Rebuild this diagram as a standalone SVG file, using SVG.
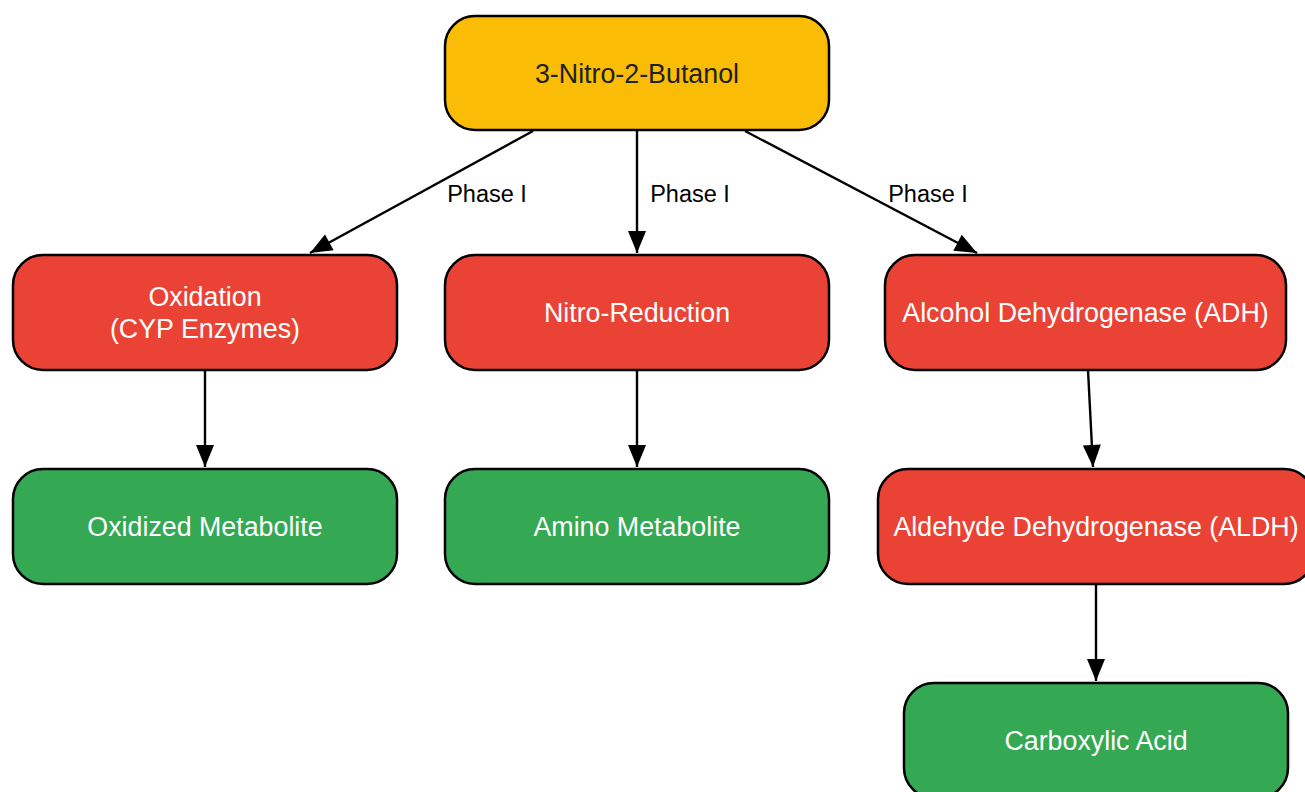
<svg xmlns="http://www.w3.org/2000/svg" width="1305" height="792" viewBox="0 0 1305 792">
<style>
.n{stroke:#000;stroke-width:2.5}
.y{fill:#FBBC05}.r{fill:#EA4335}.g{fill:#34A853}
.t{font-family:"Liberation Sans",Arial,sans-serif;font-size:26.8px;text-anchor:middle;fill:#fff}
.td{fill:#202124}
.e{stroke:#000;stroke-width:2.4;fill:none;marker-end:url(#ah)}
.l{font-family:"Liberation Sans",Arial,sans-serif;font-size:23.5px;text-anchor:middle;fill:#000}
</style>
<defs>
<marker id="ah" markerUnits="userSpaceOnUse" markerWidth="30" markerHeight="30" viewBox="0 0 30 30" refX="26" refY="15" orient="auto">
<path d="M4,6 L26,15 L4,24 Z" fill="#000"/>
</marker>
</defs>
<rect width="1305" height="792" fill="#fff"/>
<g id="edges">
<line class="e" x1="533" y1="131" x2="310" y2="253"/>
<line class="e" x1="637" y1="131" x2="637" y2="253"/>
<line class="e" x1="745" y1="131" x2="977" y2="253"/>
<line class="e" x1="205" y1="370" x2="205" y2="467"/>
<line class="e" x1="637" y1="370" x2="637" y2="467"/>
<line class="e" x1="1088" y1="370" x2="1093" y2="467"/>
<line class="e" x1="1096" y1="584" x2="1096" y2="681"/>
<text class="l" x="487" y="202">Phase I</text>
<text class="l" x="690" y="202">Phase I</text>
<text class="l" x="928" y="202">Phase I</text>
</g>
<g id="n_start"><rect class="n y" x="445" y="16" width="384" height="114" rx="30"/><text class="t td" x="637" y="83">3-Nitro-2-Butanol</text></g>
<g id="n_oxidation"><rect class="n r" x="13" y="255" width="384" height="115" rx="30"/><text class="t" x="205" y="306">Oxidation</text><text class="t" x="205" y="338">(CYP Enzymes)</text></g>
<g id="n_nitro"><rect class="n r" x="445" y="255" width="384" height="115" rx="30"/><text class="t" x="637" y="322">Nitro-Reduction</text></g>
<g id="n_adh"><rect class="n r" x="885" y="255" width="401" height="115" rx="30"/><text class="t" x="1085.5" y="322">Alcohol Dehydrogenase (ADH)</text></g>
<g id="n_oxmet"><rect class="n g" x="13" y="469" width="384" height="115" rx="30"/><text class="t" x="205" y="536">Oxidized Metabolite</text></g>
<g id="n_amino"><rect class="n g" x="445" y="469" width="384" height="115" rx="30"/><text class="t" x="637" y="536">Amino Metabolite</text></g>
<g id="n_aldh"><rect class="n r" x="878" y="469" width="436" height="115" rx="30"/><text class="t" x="1096" y="536">Aldehyde Dehydrogenase (ALDH)</text></g>
<g id="n_acid"><rect class="n g" x="904" y="683" width="384" height="115" rx="30"/><text class="t" x="1096" y="750">Carboxylic Acid</text></g>
</svg>
